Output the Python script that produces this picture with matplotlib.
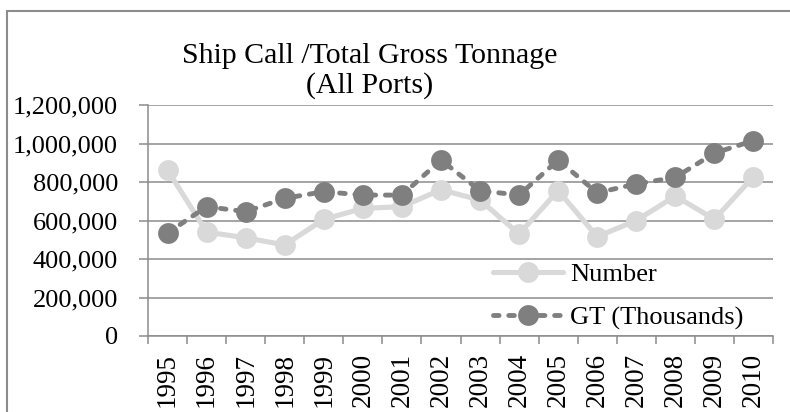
import matplotlib
matplotlib.use('Agg')
import matplotlib.pyplot as plt
from matplotlib.patches import Rectangle
from matplotlib.ticker import FuncFormatter

years = ['1995', '1996', '1997', '1998', '1999', '2000', '2001', '2002',
         '2003', '2004', '2005', '2006', '2007', '2008', '2009', '2010']
number = [862000, 540000, 510000, 473000, 606000, 663000, 672000, 760000,
          706000, 530000, 755000, 516000, 600000, 727000, 606000, 828000]
gt_thousands = [535000, 672000, 646000, 715000, 750000, 732000, 732000, 914000,
                755000, 732000, 914000, 744000, 790000, 824000, 950000, 1015000]

plt.rcParams['font.family'] = ['Liberation Serif', 'DejaVu Serif']
plt.rcParams['lines.scale_dashes'] = False

grey = '#8c8c8c'
light = '#d9d9d9'
dark = '#7f7f7f'

fig = plt.figure(figsize=(7.9, 4.12), dpi=100)
ax = fig.add_axes([148/790, 1-336/412, 625/790, 231/412])

x = list(range(len(years)))
ax.plot(x, number, color=light, lw=3.7, marker='o', ms=15, mew=0,
        solid_capstyle='round', label='Number', zorder=3)
ax.plot(x, gt_thousands, color=dark, lw=3.5, marker='o', ms=15, mew=0,
        dashes=(4.0, 7.0), dash_capstyle='round', label='GT (Thousands)', zorder=4)

ax.set_xlim(-0.5, len(years) - 0.5)
ax.set_ylim(0, 1200000)
ax.set_yticks(range(0, 1200001, 200000))
ax.yaxis.set_major_formatter(FuncFormatter(lambda v, p: f'{int(v):,}'))
ax.grid(axis='y', color=grey, lw=1.1)
ax.set_axisbelow(True)

# category labels at centres, tick marks at the boundaries
ax.set_xticks(x)
ax.set_xticklabels(years, rotation=90)
ax.set_xticks([i - 0.5 for i in range(len(years) + 1)], minor=True)
ax.tick_params(axis='x', which='major', length=0, pad=12, labelsize=19.5)
ax.tick_params(axis='x', which='minor', length=6, width=1.1, color=grey)
ax.tick_params(axis='y', length=6.5, width=1.1, color=grey, pad=15, labelsize=19)

for side in ['top', 'right']:
    ax.spines[side].set_visible(False)
for side in ['left', 'bottom']:
    ax.spines[side].set_color(grey)
    ax.spines[side].set_linewidth(1.1)

ax.legend(loc='center left', bbox_to_anchor=(493/790, 1-296.5/412),
          bbox_transform=fig.transFigure, frameon=False, fontsize=19,
          handlelength=2.65, handletextpad=0.27, labelspacing=0.75,
          borderpad=0, borderaxespad=0)

fig.text(370/790, 1-63/412, 'Ship Call /Total Gross Tonnage', ha='center',
         va='baseline', fontsize=21.5)
fig.text(370/790, 1-93/412, '(All Ports)', ha='center', va='baseline', fontsize=21.5)

fig.add_artist(Rectangle((7/790, -0.1), 1.2, 1.1 - 11/412, transform=fig.transFigure,
                         fill=False, ec=grey, lw=1.5))

fig.savefig('out.png', dpi=100)
